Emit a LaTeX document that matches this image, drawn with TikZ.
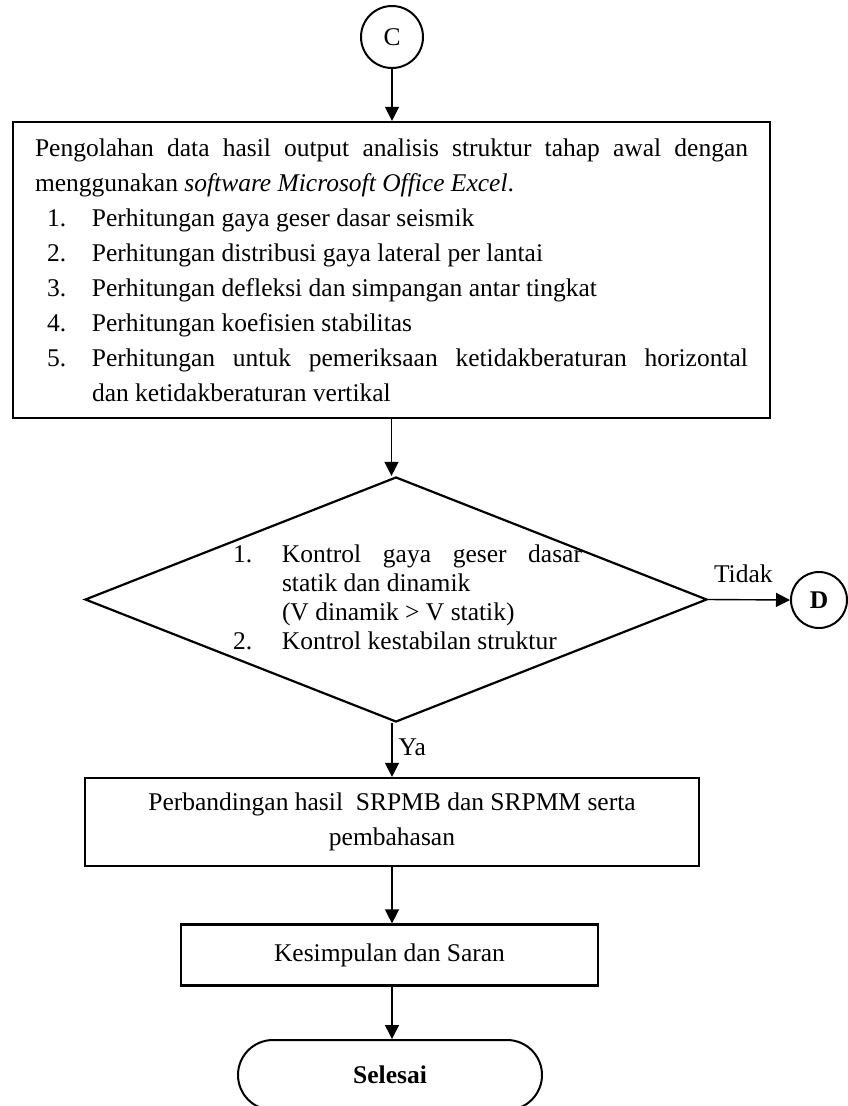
\documentclass[tikz,border=0pt]{standalone}
\usepackage{fontspec}
\setmainfont{Liberation Serif}
\usetikzlibrary{arrows.meta,shapes.geometric,shapes.misc,calc}
\newcommand{\itemline}[1]{\par\noindent\hangindent=57pt\hspace*{12pt}\makebox[45pt][l]{#1}}
\begin{document}
\begin{tikzpicture}[x=1pt,y=-1pt,
  every node/.style={font=\fontsize{25.5}{35}\selectfont},
  boxst/.style={draw, line width=2.2pt, inner sep=0pt},
  circst/.style={draw, circle, line width=2pt, inner sep=0pt},
  conn/.style={line width=1.4pt, -{Triangle[width=14pt,length=14pt]}},
  lbl/.style={inner sep=0pt}]
\useasboundingbox (0,0) rectangle (848,1106);

\node[circst, minimum size=62pt] (C) at (392,37) {C};

\node[boxst, text width=713pt, inner xsep=22pt, minimum height=296pt, align=justify] (box1) at (391.5,270)
{\noindent Pengolahan data hasil output analisis struktur tahap awal dengan\linebreak
menggunakan \textit{software Microsoft Office Excel}.
\itemline{1.}Perhitungan gaya geser dasar seismik
\itemline{2.}Perhitungan distribusi gaya lateral per lantai
\itemline{3.}Perhitungan defleksi dan simpangan antar tingkat
\itemline{4.}Perhitungan koefisien stabilitas
\itemline{5.}Perhitungan untuk pemeriksaan ketidakberaturan horizontal\linebreak dan ketidakberaturan vertikal\par};

\node[draw, diamond, line width=2.2pt, minimum width=622pt, minimum height=245pt, inner sep=0pt] (dec) at (396,599.5) {};
\node[lbl, text width=349pt, align=justify, font=\fontsize{25.5}{29}\selectfont] (dectext) at (407.5,597)
{\noindent\hangindent=49pt\makebox[49pt][l]{1.}Kontrol gaya geser dasar\linebreak statik dan dinamik\\(V dinamik > V statik)\par
\noindent\makebox[49pt][l]{2.}Kontrol kestabilan struktur\par};

\node[circst, minimum size=56pt, font=\bfseries\fontsize{25.5}{30}\selectfont] (D) at (819,600) {D};

\node[boxst, minimum width=614pt, minimum height=88pt, align=center] (box2) at (392,822)
{Perbandingan hasil~ SRPMB dan SRPMM serta\\pembahasan};

\node[boxst, minimum width=417pt, minimum height=61pt] (box3) at (389.5,955) {Kesimpulan dan Saran};

\node[draw, rounded rectangle, line width=2pt, minimum width=304pt, minimum height=70pt, inner sep=0pt,
  font=\bfseries\fontsize{25.5}{30}\selectfont] (end) at (390,1075) {Selesai};

\draw[conn] (C.south) -- (C.south |- box1.north);
\draw[conn] (box1.south) -- (box1.south |- dec.north);
\draw[conn] (dec.east) -- (D.west) node[lbl, pos=0.43, anchor=base, yshift=17pt] (tidak) {Tidak};
\draw[conn] (box2.north |- dec.south) -- (box2.north) node[lbl, pos=0.45, anchor=west, xshift=6pt] (ya) {Ya};
\draw[conn] (box2.south) -- (box2.south |- box3.north);
\draw[conn] (box2.south |- box3.south) -- (box2.south |- end.north);
\end{tikzpicture}
\end{document}
